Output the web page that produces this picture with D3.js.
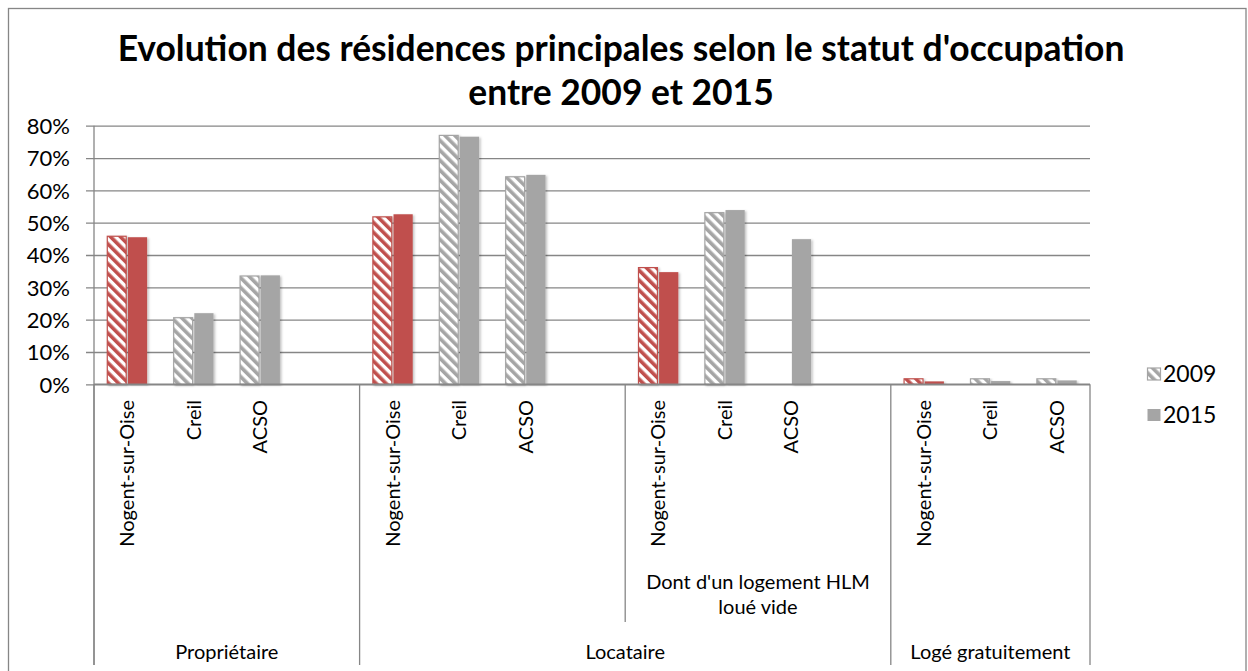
<!DOCTYPE html>
<html>
<head>
<meta charset="utf-8">
<script src="https://cdn.jsdelivr.net/npm/d3@7"></script>
<style>
  html, body { margin: 0; padding: 0; background: #fff; }
  svg { display: block; }
  text { font-family: Lato, "Open Sans", "DejaVu Sans", sans-serif; fill: #000; }
</style>
</head>
<body>
<svg id="chart" width="1248" height="671"></svg>
<script>
// ---------- DATA ----------
const titleLines = ["Evolution des résidences principales selon le statut d'occupation", "entre 2009 et 2015"];
const categories = ["Nogent-sur-Oise", "Creil", "ACSO", "",
                    "Nogent-sur-Oise", "Creil", "ACSO", "",
                    "Nogent-sur-Oise", "Creil", "ACSO", "",
                    "Nogent-sur-Oise", "Creil", "ACSO"];
const series2009 = [45.8, 20.6, 33.5, null,
                    51.8, 77.0, 64.2, null,
                    36.1, 53.1, null, null,
                    1.7, 1.7, 1.7];
const series2015 = [45.5, 22.0, 33.7, null,
                    52.6, 76.6, 64.8, null,
                    34.7, 53.9, 44.9, null,
                    0.9, 1.0, 1.2];
const highlighted = ["Nogent-sur-Oise"];
const outerLabels = ["Propriétaire", "Locataire", "Logé gratuitement"];
const outerStarts = [0, 4, 12];
const outerEnds = [4, 12, 15];
const middleLabels = ["", "Dont d'un logement HLM loué vide"];
const middleStarts = [4, 8];
const middleEnds = [8, 12];
const yTicks = [0, 10, 20, 30, 40, 50, 60, 70, 80];
const seriesNames = ["2009", "2015"];

// ---------- LAYOUT ----------
const svg = d3.select("#chart");
const plot = { left: 94, right: 1090, top: 125.7, bottom: 384.3 };
const red = "#C0504D", grey = "#A5A5A5", lineCol = "#868686";
const labelSize = 20;

const x = d3.scaleBand().domain(d3.range(categories.length)).range([plot.left, plot.right]).paddingInner(0).paddingOuter(0);
const y = d3.scaleLinear().domain([0, 80]).range([plot.bottom, plot.top]);
const bw = x.bandwidth();
const barW = bw * 0.3;
const barOff = bw * 0.2;

// defs: patterns + shadow
const defs = svg.append("defs");
function stripe(id, col) {
  const p = defs.append("pattern").attr("id", id).attr("patternUnits", "userSpaceOnUse")
    .attr("width", 7).attr("height", 7).attr("patternTransform", "rotate(-45)");
  p.append("rect").attr("width", 7).attr("height", 7).attr("fill", "#fff");
  p.append("rect").attr("x", 0).attr("width", 3.6).attr("height", 7).attr("fill", col);
}
stripe("stripeRed", red);
stripe("stripeGrey", grey);
const f = defs.append("filter").attr("id", "shadow").attr("x", "-20%").attr("y", "-5%").attr("width", "150%").attr("height", "115%");
f.append("feDropShadow").attr("dx", 1.5).attr("dy", 1).attr("stdDeviation", 1.2).attr("flood-color", "#000").attr("flood-opacity", 0.25);

// outer frame
svg.append("rect").attr("x", 8.5).attr("y", 8.5).attr("width", 1237.5).attr("height", 700)
  .attr("fill", "#fff").attr("stroke", lineCol).attr("stroke-width", 1.3);

// title
const title = svg.append("g");
titleLines.forEach((t, i) => {
  title.append("text").attr("x", 621).attr("y", 61 + i * 44)
    .attr("text-anchor", "middle").attr("font-weight", "bold").attr("font-size", 28).text(t);
});
(function(){
  const n = title.select("text").node();
  const w = n.getComputedTextLength();
  const fs = 28 * 1007 / w;
  title.selectAll("text").attr("font-size", fs);
})();

// gridlines + y labels
const yAxis = d3.axisLeft(y).tickValues(yTicks).tickFormat(d => d + "%").tickSize(plot.right - plot.left + 8);
const gy = svg.append("g").attr("transform", `translate(${plot.right},0)`).call(yAxis);
gy.select(".domain").remove();
gy.selectAll(".tick line").attr("stroke", lineCol).attr("stroke-width", 1.3);
gy.selectAll(".tick text").attr("font-size", 22).attr("x", -(plot.right - plot.left) - 24).attr("dy", "0.35em")
  .style("font-family", "Lato, sans-serif");

// y axis line
svg.append("line").attr("x1", plot.left).attr("x2", plot.left).attr("y1", plot.top).attr("y2", 665)
  .attr("stroke", lineCol).attr("stroke-width", 1.3);

// bars
const barsG = svg.append("g");
const seriesData = [series2009, series2015];
seriesData.forEach((vals, s) => {
  barsG.selectAll(null).data(vals.map((v, i) => ({ v, i }))).enter()
    .filter(d => d.v !== null)
    .append("rect")
    .attr("x", d => x(d.i) + barOff + s * barW + (s === 1 ? 0.7 : 0))
    .attr("y", d => y(d.v))
    .attr("width", barW - (s === 1 ? 0.7 : 1))
    .attr("height", d => y(0) - y(d.v))
    .attr("filter", "url(#shadow)")
    .attr("fill", d => {
      const hl = highlighted.includes(categories[d.i]);
      if (s === 0) return hl ? "url(#stripeRed)" : "url(#stripeGrey)";
      return hl ? red : grey;
    })
    .attr("stroke", d => {
      const hl = highlighted.includes(categories[d.i]);
      return s === 0 ? (hl ? red : grey) : "none";
    })
    .attr("stroke-width", s === 0 ? 1.2 : 0);
});

// category axis line
svg.append("line").attr("x1", plot.left).attr("x2", plot.right).attr("y1", plot.bottom).attr("y2", plot.bottom)
  .attr("stroke", lineCol).attr("stroke-width", 1.5);

// category labels (rotated)
const catG = svg.append("g");
catG.selectAll("text").data(categories.map((c, i) => ({ c, i })).filter(d => d.c !== "")).enter()
  .append("text")
  .attr("transform", d => `translate(${x(d.i) + bw / 2 + 7},400) rotate(-90)`)
  .attr("text-anchor", "end")
  .attr("font-size", labelSize)
  .text(d => d.c);

// outer dividers
const dividerXs = outerStarts.concat([outerEnds[outerEnds.length - 1]]);
dividerXs.forEach(i => {
  const xx = i < categories.length ? x(i) : plot.right;
  svg.append("line").attr("x1", xx).attr("x2", xx).attr("y1", plot.bottom).attr("y2", 665)
    .attr("stroke", lineCol).attr("stroke-width", 1.3);
});
// middle dividers
middleStarts.slice(1).forEach(i => {
  svg.append("line").attr("x1", x(i)).attr("x2", x(i)).attr("y1", plot.bottom).attr("y2", 622)
    .attr("stroke", lineCol).attr("stroke-width", 1.3);
});

// middle labels
middleLabels.forEach((lab, k) => {
  if (!lab) return;
  const cx = (x(middleStarts[k]) + (middleEnds[k] < categories.length ? x(middleEnds[k]) : plot.right)) / 2;
  const words = lab.split(" ");
  const l1 = words.slice(0, 4).join(" "), l2 = words.slice(4).join(" ");
  [l1, l2].forEach((t, j) => {
    svg.append("text").attr("x", cx).attr("y", 589 + j * 25).attr("text-anchor", "middle")
      .attr("font-size", labelSize).text(t);
  });
});

// outer labels
outerLabels.forEach((lab, k) => {
  const x0 = x(outerStarts[k]);
  const x1 = outerEnds[k] < categories.length ? x(outerEnds[k]) : plot.right;
  svg.append("text").attr("x", (x0 + x1) / 2).attr("y", 659).attr("text-anchor", "middle")
    .attr("font-size", labelSize).text(lab);
});

// legend
const leg = svg.append("g");
seriesNames.forEach((n, i) => {
  const yy = 368 + i * 41;
  leg.append("rect").attr("x", 1147.5).attr("y", yy).attr("width", 13).attr("height", 12)
    .attr("fill", i === 0 ? "url(#stripeGrey)" : grey)
    .attr("stroke", i === 0 ? grey : "none").attr("stroke-width", 1.2);
  leg.append("text").attr("x", 1163).attr("y", yy + 14).attr("font-size", 23).text(n);
});
</script>
</body>
</html>
